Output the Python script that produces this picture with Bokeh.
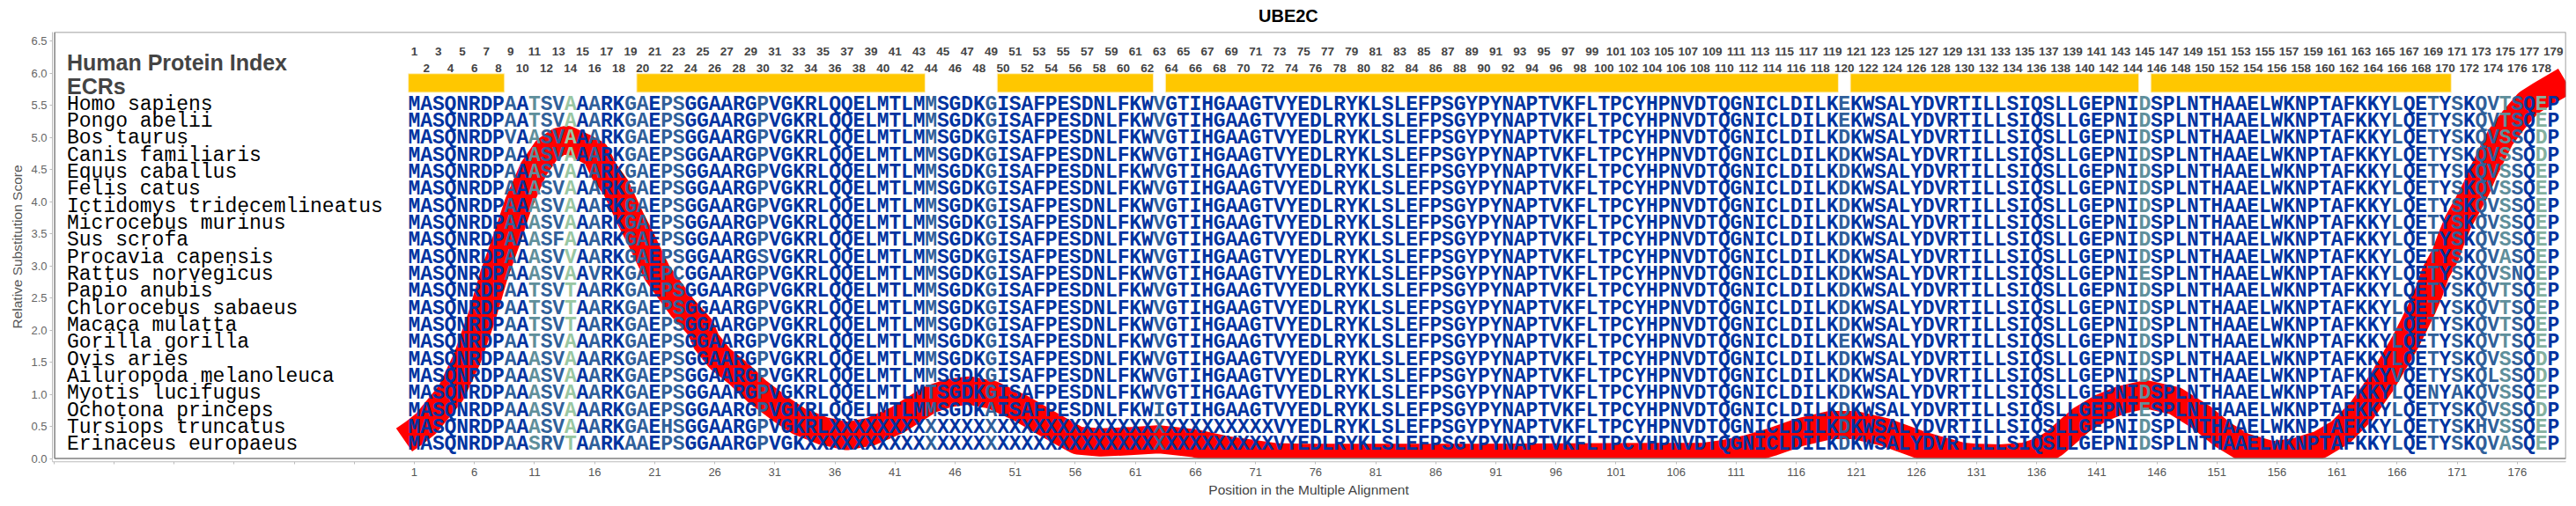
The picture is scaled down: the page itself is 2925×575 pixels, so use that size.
from bokeh.plotting import figure
from bokeh.models import ColumnDataSource, FixedTicker, BoxAnnotation, Title
from bokeh.core.properties import value
from bokeh.embed import file_html
from bokeh.resources import INLINE

title = "UBE2C"
x_title = "Position in the Multiple Alignment"
y_title = "Relative Substitution Score"
panel_titles = ["Human Protein Index", "ECRs"]

human = ("MASQNRDPAATSVAAARKGAEPSGGAARGPVGKRLQQELMTLMMSGDKGISAFPESDNLFKWVGTIHGAAGTVYEDL"
         "RYKLSLEFPSGYPYNAPTVKFLTPCYHPNVDTQGNICLDILKEKWSALYDVRTILLSIQSLLGEPNIDSPLNTHAAE"
         "LWKNPTAFKKYLQETYSKQVTSQEP")

# species name, then substitutions against the human sequence {position: residue}
species = [
    ("Homo sapiens", {}),
    ("Pongo abelii", {}),
    ("Bos taurus", {9: "V", 11: "A", 120: "D", 175: "S", 178: "D"}),
    ("Canis familiaris", {11: "A", 120: "D", 175: "S", 178: "D"}),
    ("Equus caballus", {11: "A", 120: "D", 175: "S"}),
    ("Felis catus", {11: "A", 120: "D", 175: "S"}),
    ("Ictidomys tridecemlineatus", {11: "A", 120: "D", 175: "S"}),
    ("Microcebus murinus", {11: "A", 120: "D", 175: "S"}),
    ("Sus scrofa", {11: "A", 13: "F", 120: "D", 175: "S"}),
    ("Procavia capensis", {11: "A", 14: "V", 30: "S", 120: "D", 175: "A"}),
    ("Rattus norvegicus", {11: "A", 16: "V", 23: "C", 120: "D", 145: "E", 175: "S", 176: "N"}),
    ("Papio anubis", {14: "T", 120: "D"}),
    ("Chlorocebus sabaeus", {14: "T", 120: "D"}),
    ("Macaca mulatta", {14: "T", 120: "D"}),
    ("Gorilla gorilla", {}),
    ("Ovis aries", {11: "A", 120: "D", 175: "S", 178: "D"}),
    ("Ailuropoda melanoleuca", {11: "A", 120: "D", 166: "V", 174: "L", 175: "S", 178: "D"}),
    ("Myotis lucifugus", {11: "A", 44: "T", 120: "D", 169: "N", 171: "A", 175: "S"}),
    ("Ochotona princeps", {11: "A", 49: "A", 63: "I", 120: "D", 145: "E", 175: "S", 178: "D"}),
    ("Tursiops truncatus", {11: "A", 22: "H", 120: "D", 173: "H", 175: "S"}),
    ("Erinaceus europaeus", {11: "S", 12: "R", 14: "T", 19: "A", 120: "D", 175: "A"}),
]
# stretches of unknown residues (first, last position) by species
unknown_runs = {"Tursiops truncatus": (36, 72), "Erinaceus europaeus": (34, 72)}

# conservation class per alignment column; every other column is class 0
column_class = {9: 1, 11: 2, 12: 1, 13: 1, 14: 3, 16: 1, 19: 1, 20: 1, 22: 1, 23: 1, 30: 1,
                44: 1, 49: 1, 63: 1, 120: 1, 145: 2, 166: 1, 169: 1, 171: 1, 173: 1, 174: 1,
                175: 2, 176: 1, 178: 4}

ecr_first = [1, 20, 50, 64, 121, 146]
ecr_last = [8, 43, 62, 119, 144, 170]

curve_pos = [0.15, 1, 2, 3, 4.05, 5.4, 6.6, 7.65, 8.7, 9.65, 10.9, 12, 13, 13.7, 15, 16.1, 16.8,
             17.8, 19.1, 19.85, 20.5, 21.2, 22.25, 23.3, 24.8, 25.3, 26.4, 28, 29.5, 31.4, 33, 35,
             37, 39, 41.2, 43.9, 45.5, 47.2, 49.1, 51.4, 53.6, 56.2, 58.1, 60.5, 62.9, 65.9, 68.6,
             72.7, 75, 90, 108.4, 110, 112, 114, 116.3, 118.8, 120.9, 123.4, 126.2, 127.8, 129.8,
             131.2, 133, 135, 136.5, 137.5, 138.6, 139.7, 141.3, 143, 145.1, 147.5, 149.8, 151.5,
             153.2, 155.6, 157.6, 159.6, 161.3, 163, 164.7, 165.9, 166.7, 167.4, 168.1, 168.7,
             169.2, 170, 170.5, 171.1, 171.9, 172.6, 173.2, 173.9, 174.6, 175.7, 176.9, 178, 179,
             180]
curve_score = [0.29, 0.40, 0.55, 0.78, 1.02, 1.56, 2.2, 2.87, 3.42, 3.96, 4.5, 4.8, 4.93, 4.96, 4.85,
               4.74, 4.47, 4.21, 3.69, 3.42, 3.16, 2.89, 2.62, 2.35, 2.04, 1.82, 1.56, 1.32, 1.05,
               0.78, 0.58, 0.43, 0.35, 0.42, 0.6, 0.92, 1.02, 1.06, 0.99, 0.79, 0.55, 0.28, 0.25,
               0.27, 0.3, 0.24, 0.13, 0.02, 0.01, 0.01, 0.03, 0.07, 0.15, 0.26, 0.41, 0.52, 0.52,
               0.41, 0.22, 0.13, 0.03, 0.01, 0.0, 0.03, 0.12, 0.24, 0.42, 0.6, 0.78, 0.91, 1.0, 0.9,
               0.63, 0.37, 0.18, 0.05, 0.1, 0.22, 0.41, 0.73, 1.18, 1.56, 1.82, 2.08, 2.35, 2.62,
               2.89, 3.16, 3.42, 3.69, 3.96, 4.21, 4.47, 4.74, 5.0, 5.27, 5.53, 5.66, 5.77, 5.88]

# ---- styling -------------------------------------------------------------
palette = {0: "#0033A0", 1: "#30609A", 2: "#5F8F9B", 3: "#99C6A2", 4: "#84B09F"}
PX_X, PX_Y = 13.645, 73.9

p = figure(width=2917, height=567, output_backend="svg", toolbar_location=None,
           x_range=(-29.12, 180.04), y_range=(-0.047, 6.637),
           min_border_left=59, min_border_right=4, min_border_top=35, min_border_bottom=38,
           outline_line_color=None, background_fill_color="white")
p.title = Title(text=title, align="left", offset=1369.5, standoff=12, vertical_align="top",
                text_font="Liberation Sans", text_font_style="bold",
                text_font_size="20px", text_color="#000000")
p.grid.visible = False

xa = p.xaxis[0]
xa.ticker = FixedTicker(ticks=list(range(-29, 177, 5)))
xa.major_label_overrides = {t: "" for t in range(-29, 1, 5)}
xa.axis_label = x_title
xa.axis_label_text_font = "Liberation Sans"
xa.axis_label_text_font_size = "15.5px"
xa.axis_label_text_font_style = "normal"
xa.axis_label_text_color = "#444444"
xa.axis_label_standoff = 4
xa.major_label_text_font = "Liberation Sans"
xa.major_label_text_font_size = "13px"
xa.major_label_text_color = "#555555"
xa.major_label_standoff = 4
xa.axis_line_color = "#BBBBBB"
xa.axis_line_width = 1.5
xa.major_tick_line_color = "#BBBBBB"
xa.major_tick_out = 3
xa.major_tick_in = 0
xa.minor_tick_line_color = None

ya = p.yaxis[0]
ya.ticker = FixedTicker(ticks=[i * 0.5 for i in range(14)])
ya.major_label_overrides = {i * 0.5: f"{i * 0.5:.1f}" for i in range(14)}
ya.axis_label = y_title
ya.axis_label_text_font = "Liberation Sans"
ya.axis_label_text_font_size = "15.5px"
ya.axis_label_text_font_style = "normal"
ya.axis_label_text_color = "#555555"
ya.axis_label_standoff = 4
ya.major_label_text_font = "Liberation Sans"
ya.major_label_text_font_size = "13px"
ya.major_label_text_color = "#666666"
ya.major_label_standoff = 3
ya.axis_line_color = "#BBBBBB"
ya.axis_line_width = 1
ya.major_tick_line_color = "#BBBBBB"
ya.major_tick_out = 3
ya.major_tick_in = 0
ya.minor_tick_line_color = None

# ECR bars
p.quad(left=[a - 0.5 for a in ecr_first], right=[b + 0.5 for b in ecr_last],
       bottom=5.70, top=5.99, fill_color="#FFC700", line_color="#FFF0C0", line_width=1)

# score curve
p.line(curve_pos, curve_score, line_color="#FF0000", line_width=32,
       line_join="round", line_cap="butt")

# alignment letters
ROW0, ROW_STEP = 5.51, 0.2647
lx, ly, lt, lc = [], [], [], []
for r, (name, subs) in enumerate(species):
    run = unknown_runs.get(name)
    for i, aa in enumerate(human):
        pos = i + 1
        ch = subs.get(pos, aa)
        if run and run[0] <= pos <= run[1]:
            ch = "X"
        lx.append(pos)
        ly.append(ROW0 - r * ROW_STEP)
        lt.append(ch)
        lc.append(palette[column_class.get(pos, 0)])
p.text(x="x", y="y", text="t", text_color="c",
       source=ColumnDataSource(dict(x=lx, y=ly, t=lt, c=lc)),
       text_font=value("Liberation Mono"), text_font_style="bold", text_font_size="23px",
       text_align="center", text_baseline="middle")

# species names
NAME_X = 1 + (75.5 - 470) / PX_X
p.text(x=[NAME_X] * len(species), y=[ROW0 - r * ROW_STEP for r in range(len(species))],
       text=[s[0] for s in species], text_font=value("Liberation Mono"),
       text_font_size="23px", text_color="#000000", text_align="left", text_baseline="middle")

# panel titles
p.text(x=[NAME_X, NAME_X], y=[6.17, 5.80], text=panel_titles,
       text_font=value("Liberation Sans"), text_font_style="bold", text_font_size="25px",
       text_color="#444444", text_align="left", text_baseline="middle")

# position numbers over the alignment
positions = list(range(1, len(human) + 1))
odd = [q for q in positions if q % 2 == 1]
even = [q for q in positions if q % 2 == 0]
for group, yy in ((odd, 6.34), (even, 6.07)):
    p.text(x=group, y=[yy] * len(group), text=[str(q) for q in group],
           text_font=value("Liberation Sans"), text_font_style="bold", text_font_size="13.5px",
           text_color="#444444", text_align="center", text_baseline="middle")

# white strip hiding what runs below zero, plot border
p.add_layout(BoxAnnotation(top=0, fill_color="white", fill_alpha=1, line_color=None))
p.add_layout(BoxAnnotation(left=-28.93, right=180.04, top=6.637, bottom=0, fill_alpha=0,
                           line_color="#808080", line_width=1.5, line_alpha=1))

open("out.html", "w").write(file_html(p, INLINE))
